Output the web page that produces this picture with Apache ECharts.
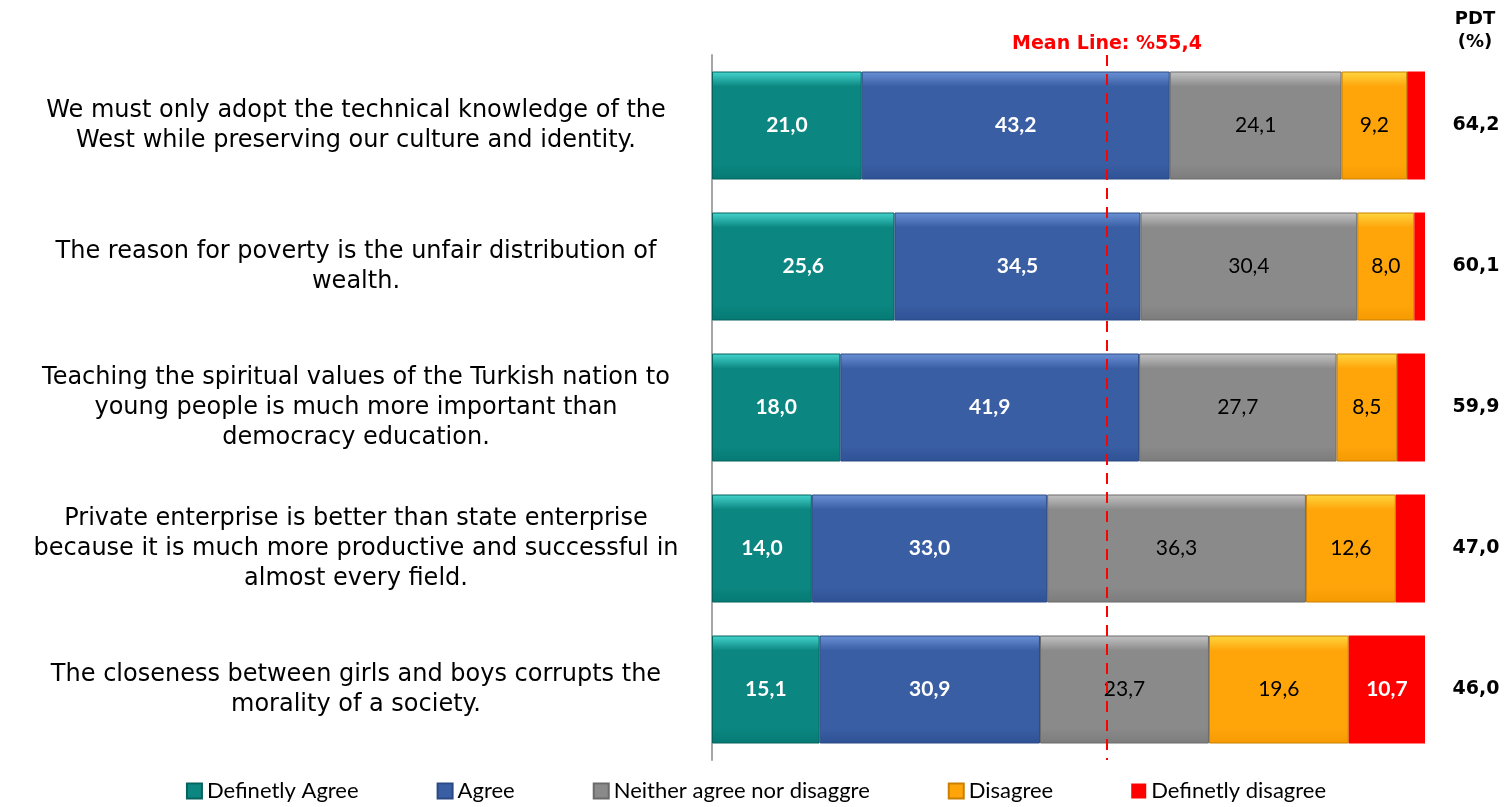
<!DOCTYPE html>
<html>
<head>
<meta charset="utf-8">
<script src="https://cdn.jsdelivr.net/npm/echarts@6/dist/echarts.min.js"></script>
<style>
    html, body { margin: 0; padding: 0; background: #fff; }
    #chart { width: 1512px; height: 807px; }
</style>
</head>
<body>
<div id="chart"></div>
<script>
// statements (top to bottom)
var categories = [
    'We must only adopt the technical knowledge of the\nWest while preserving our culture and identity.',
    'The reason for poverty is the unfair distribution of\nwealth.',
    'Teaching the spiritual values of the Turkish nation to\nyoung people is much more important than\ndemocracy education.',
    'Private enterprise is better than state enterprise\nbecause it is much more productive and successful in\nalmost every field.',
    'The closeness between girls and boys corrupts the\nmorality of a society.'
];
var seriesNames = ['Definetly Agree', 'Agree', 'Neither agree nor disaggre', 'Disagree', 'Definetly disagree'];
var definetlyAgree = [21.0, 25.6, 18.0, 14.0, 15.1];
var agree = [43.2, 34.5, 41.9, 33.0, 30.9];
var neither = [24.1, 30.4, 27.7, 36.3, 23.7];
var disagree = [9.2, 8.0, 8.5, 12.6, 19.6];
var definetlyDisagree = [2.5, 1.5, 3.9, 4.1, 10.7];
var pdtValues = [64.2, 60.1, 59.9, 47.0, 46.0];
var meanValue = 55.4;

function comma(v) {
    return Number(v).toFixed(1).replace('.', ',');
}

// bevel-ish look
function bevel(light, base, dark) {
    return new echarts.graphic.LinearGradient(0, 0, 0, 1, [
        { offset: 0, color: light },
        { offset: 0.14, color: base },
        { offset: 0.86, color: base },
        { offset: 1, color: dark }
    ]);
}

var styles = [
    { color: bevel('#45d6cf', '#0b8680', '#067a74'), border: '#05625d', label: '#fff', bold: 'bold' },
    { color: bevel('#6b91d6', '#3a5ea3', '#2f5196'), border: '#2b4a85', label: '#fff', bold: 'bold' },
    { color: bevel('#c4c4c4', '#8a8a8a', '#7c7c7c'), border: '#6a6a6a', label: '#000', bold: 'normal' },
    { color: bevel('#ffd740', '#ffa50a', '#f59a00'), border: '#c98000', label: '#000', bold: 'normal' },
    { color: '#ff0000', border: '#ff0000', label: '#fff', bold: 'bold' }
];
var dataSets = [definetlyAgree, agree, neither, disagree, definetlyDisagree];

var series = dataSets.map(function (d, i) {
    var s = {
        name: seriesNames[i],
        type: 'bar',
        stack: 'total',
        barWidth: 108,
        data: d,
        itemStyle: {
            color: styles[i].color,
            borderColor: styles[i].border,
            borderWidth: i == 4 ? 0 : 1
        },
        label: {
            show: true,
            position: 'inside',
            color: styles[i].label,
            fontFamily: 'Lato',
            fontWeight: styles[i].bold,
            fontSize: 21,
            formatter: function (p) {
                return p.value < 5 ? '' : comma(p.value);
            }
        }
    };
    if (i == 4) {
        s.markLine = {
            silent: true,
            symbol: 'none',
            lineStyle: { color: '#ff0000', type: [11, 8], width: 2 },
            label: {
                show: true,
                position: 'start',
                distance: 1,
                color: '#ff0000',
                fontFamily: 'DejaVu Sans',
                fontWeight: 'bold',
                fontSize: 19,
                formatter: 'Mean Line: %' + comma(meanValue)
            },
            data: [{ xAxis: meanValue }]
        };
    }
    return s;
});

var chart = echarts.init(document.getElementById('chart'));
chart.setOption({
    animation: false,
    grid: { left: 712, right: 87, top: 55, bottom: 47 },
    legend: {
        bottom: 0,
        left: 'center',
        itemWidth: 15,
        itemHeight: 15,
        itemGap: 78,
        icon: 'rect',
        textStyle: { fontFamily: 'Lato', fontSize: 22, color: '#000' },
        data: seriesNames
    },
    xAxis: {
        type: 'value',
        min: 0,
        max: 100,
        show: false
    },
    yAxis: [{
        type: 'category',
        inverse: true,
        data: categories,
        axisLine: { show: true, lineStyle: { color: '#a6a6a6', width: 2 } },
        axisTick: { show: false },
        axisLabel: {
            margin: 356,
            align: 'center',
            fontFamily: 'DejaVu Sans',
            fontSize: 24,
            lineHeight: 30,
            color: '#000'
        }
    }, {
        type: 'category',
        inverse: true,
        position: 'right',
        data: pdtValues,
        axisLine: { show: false },
        axisTick: { show: false },
        axisLabel: {
            margin: 51,
            align: 'center',
            fontFamily: 'DejaVu Sans',
            fontWeight: 'bold',
            fontSize: 19,
            color: '#000',
            formatter: function (v) { return comma(v); }
        }
    }],
    graphic: [{
        type: 'text',
        x: 1475,
        y: 8,
        style: {
            text: 'PDT\n(%)',
            fill: '#000',
            font: 'bold 18px "DejaVu Sans"',
            align: 'center',
            lineHeight: 23
        }
    }],
    series: series
});
</script>
</body>
</html>
